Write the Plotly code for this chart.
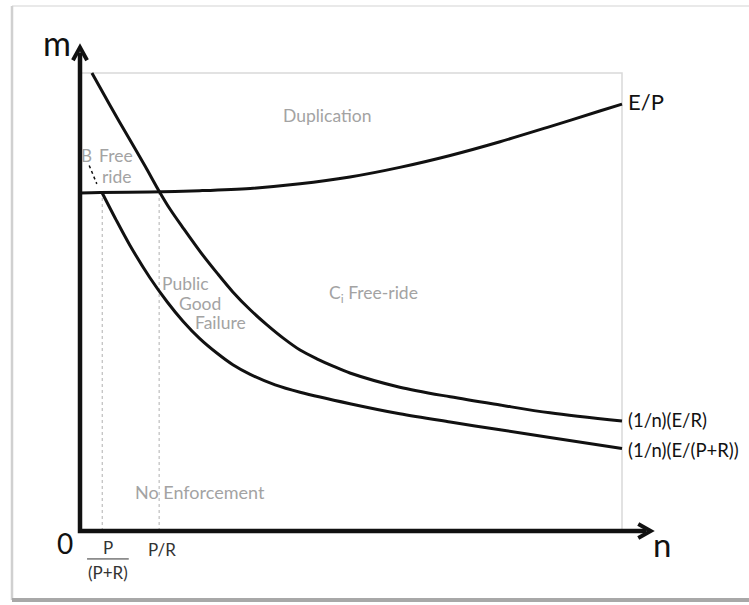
import plotly.graph_objects as go

# ---- data (n = horizontal, m = vertical) ----
ep_n = [0.0, 0.37, 1.29, 2.21, 3.14, 4.06, 4.98, 5.90, 6.83, 7.75, 8.67, 9.59, 10.0]
ep_m = [7.38, 7.39, 7.40, 7.43, 7.48, 7.58, 7.73, 7.94, 8.20, 8.50, 8.83, 9.17, 9.32]

er_n = [0.22, 0.55, 0.92, 1.20, 1.46, 1.66, 1.90, 2.21, 2.53, 2.82, 3.14, 3.45, 3.75,
        4.06, 4.37, 4.67, 4.98, 5.90, 6.83, 7.75, 8.67, 10.0]
er_m = [10.0, 9.30, 8.54, 7.97, 7.42, 7.03, 6.62, 6.11, 5.63, 5.22, 4.83, 4.50, 4.21,
        3.95, 3.76, 3.60, 3.45, 3.14, 2.93, 2.75, 2.58, 2.40]

epr_n = [0.41, 0.65, 0.92, 1.29, 1.61, 1.90, 2.21, 2.53, 2.82, 3.14, 3.60, 4.06, 4.98,
         5.90, 6.83, 7.75, 8.67, 10.0]
epr_m = [7.38, 6.83, 6.24, 5.53, 5.00, 4.58, 4.20, 3.88, 3.63, 3.42, 3.19, 3.03, 2.78,
         2.56, 2.38, 2.21, 2.04, 1.80]

# thresholds on the n axis (P/(P+R) and P/R) and where they meet E/P
thr_n = [0.41, 1.46]
thr_m = [7.38, 7.42]

box_n = [0, 10]
box_m = [0, 10]

FONT = "Lato"
BLACK = "#111111"
GREY = "#a3a3a3"
DARK = "#333333"

fig = go.Figure()

# dashed drop lines
for xn, ym in zip(thr_n, thr_m):
    fig.add_trace(go.Scatter(x=[xn, xn], y=[0, ym], mode="lines",
                             line=dict(color="#b0b0b0", width=1, dash="dot"),
                             hoverinfo="skip", showlegend=False))

curve_style = dict(color=BLACK, width=3, shape="spline", smoothing=0.9)
fig.add_trace(go.Scatter(x=ep_n, y=ep_m, mode="lines", line=curve_style,
                         name="E/P", showlegend=False))
fig.add_trace(go.Scatter(x=er_n, y=er_m, mode="lines", line=curve_style,
                         name="(1/n)(E/R)", showlegend=False))
fig.add_trace(go.Scatter(x=epr_n, y=epr_m, mode="lines", line=curve_style,
                         name="(1/n)(E/(P+R))", showlegend=False))

shapes = [
    # light grey bounding box of the diagram
    dict(type="rect", xref="x", yref="y", x0=box_n[0], x1=box_n[1], y0=box_m[0], y1=box_m[1],
         line=dict(color="#d9d9d9", width=1.5), layer="below"),
    # axes (one path so the corner is joined) and chevron arrowheads
    dict(type="path", xref="x", yref="y", path="M0,10.45 L0,0 L10.45,0",
         line=dict(color=BLACK, width=4.5)),
    dict(type="path", xref="x", yref="y", path="M-0.13,10.28 L0,10.56 L0.13,10.28",
         line=dict(color=BLACK, width=4)),
    dict(type="path", xref="x", yref="y", path="M10.30,0.155 L10.53,0 L10.30,-0.155",
         line=dict(color=BLACK, width=4)),
    # fraction bar under P
    dict(type="line", xref="x", yref="y", x0=0.13, x1=0.90, y0=-0.61, y1=-0.61,
         line=dict(color=DARK, width=1)),
    # small dotted pointer from B
    dict(type="line", xref="x", yref="y", x0=0.17, x1=0.31, y0=7.98, y1=7.58,
         line=dict(color=BLACK, width=1.5, dash="dot")),
    # page frame
    dict(type="line", xref="paper", yref="paper", x0=12/749, x1=1, y0=1-6/605, y1=1-6/605,
         line=dict(color="#e2e2e2", width=1.5)),
    dict(type="line", xref="paper", yref="paper", x0=12/749, x1=12/749, y0=1-6/605, y1=1-600/605,
         line=dict(color="#d0d0d0", width=2.5)),
    dict(type="line", xref="paper", yref="paper", x0=12/749, x1=1, y0=1-600/605, y1=1-600/605,
         line=dict(color="#a8a8a8", width=4)),
]

ann = []


def label(text, x, y, size, color=BLACK, xanchor="center"):
    ann.append(dict(text=text, x=x, y=y, xref="x", yref="y", showarrow=False,
                    xanchor=xanchor, yanchor="middle",
                    font=dict(family=FONT, size=size, color=color)))


label("m", -0.42, 10.66, 34)
label("0", -0.28, -0.26, 28)
label("n", 10.74, -0.28, 33)
label("E/P", 10.08, 9.37, 22, xanchor="left")
label("(1/n)(E/R)", 10.08, 2.42, 18.5, xanchor="left")
label("(1/n)(E/(P+R))", 10.08, 1.77, 18.5, xanchor="left")

label("Duplication", 4.56, 9.08, 17.5, GREY)
label("B", 0.12, 8.19, 17, GREY)
label("Free", 0.31, 8.19, 17.5, GREY, xanchor="left")
label("ride", 0.37, 7.73, 17.5, GREY, xanchor="left")
label("Public", 1.48, 5.41, 17.5, GREY, xanchor="left")
label("Good", 1.79, 4.96, 17.5, GREY, xanchor="left")
label("Failure", 2.08, 4.56, 17.5, GREY, xanchor="left")
label("C<sub>i</sub> Free-ride", 4.56, 5.17, 17.5, GREY, xanchor="left")
label("No Enforcement", 2.21, 0.85, 18, GREY)

label("P", 0.51, -0.37, 17, DARK)
label("(P+R)", 0.52, -0.90, 17, DARK)
label("P/R", 1.52, -0.41, 17, DARK)

fig.update_layout(
    width=749, height=605,
    margin=dict(l=0, r=0, t=0, b=0),
    paper_bgcolor="white", plot_bgcolor="white",
    showlegend=False,
    shapes=shapes, annotations=ann,
    xaxis=dict(range=[-80/54.2, 669/54.2], visible=False, fixedrange=True),
    yaxis=dict(range=[-74/45.8, 531/45.8], visible=False, fixedrange=True),
)

fig.write_html("out.html", config={"displayModeBar": False},
               post_script="document.body.style.margin='0';document.body.style.overflow='hidden';")
